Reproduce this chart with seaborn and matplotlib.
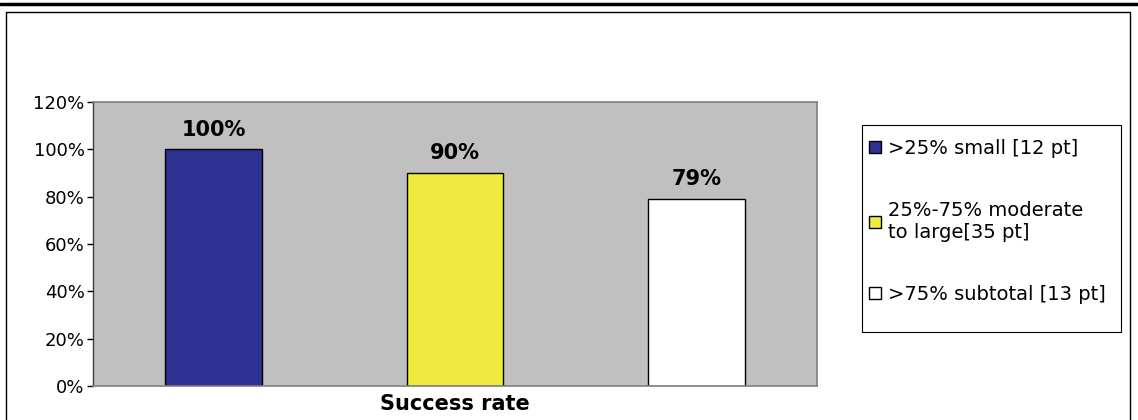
import matplotlib
matplotlib.use('Agg')
import matplotlib.pyplot as plt
import seaborn as sns
import pandas as pd
from matplotlib.patches import Patch, Rectangle
from matplotlib.lines import Line2D

groups = [">25% small [12 pt]", "25%-75% moderate\nto large[35 pt]", ">75% subtotal [13 pt]"]
values = [100, 90, 79]
value_labels = ["100%", "90%", "79%"]
colors = ["#2E3192", "#EEEA3E", "#FFFFFF"]
category = "Success rate"
yticks = [0, 20, 40, 60, 80, 100, 120]
ytick_labels = ["0%", "20%", "40%", "60%", "80%", "100%", "120%"]

sns.set_theme(style="white")
plt.rcParams['font.family'] = ['DejaVu Sans']
plt.rcParams['text.color'] = 'black'
plt.rcParams['xtick.color'] = 'black'
plt.rcParams['ytick.color'] = 'black'

W, H = 1138, 420
fig = plt.figure(figsize=(W / 100, H / 100), dpi=100)

# outer frame lines
fig.add_artist(Line2D([0, 1], [1 - 3.5 / H, 1 - 3.5 / H], color='black', lw=2.5, transform=fig.transFigure))
fig.add_artist(Line2D([6 / W, 6 / W, 1130 / W, 1130 / W], [0, 1 - 12 / H, 1 - 12 / H, 0],
                      color='black', lw=1, transform=fig.transFigure))

ax = fig.add_axes([93 / W, 34 / H, 724 / W, 284 / H])
df = pd.DataFrame({"group": groups, "value": values})
sns.barplot(data=df, x="group", y="value", hue="group", palette=colors, width=0.4,
            edgecolor="black", linewidth=1, ax=ax, legend=False, saturation=1)

ax.set_facecolor("#C0C0C0")
ax.set_ylim(0, 120)
ax.set_xlim(-0.5, 2.5)
ax.set_yticks(yticks)
ax.set_yticklabels(ytick_labels, fontsize=13, color='black')
ax.set_xticks([1])
ax.set_xticklabels([category], fontsize=15, fontweight='bold', color='black')
ax.tick_params(axis='x', length=0, pad=6)
ax.tick_params(axis='y', length=4, width=1, color='black', direction='out', pad=2, left=True)
ax.set_xlabel("")
ax.set_ylabel("")
for side in ["top", "right", "bottom"]:
    ax.spines[side].set_color("#808080")
    ax.spines[side].set_linewidth(1.2)
ax.spines["left"].set_color("#404040")
ax.spines["left"].set_linewidth(1)

for cont, lab in zip(ax.containers, value_labels):
    ax.bar_label(cont, labels=[lab], padding=7, fontsize=15, fontweight='bold', color='black')

# legend frame
fig.add_artist(Rectangle((862 / W, 1 - 332 / H), (1121 - 862) / W, (332 - 125) / H,
                         facecolor='white', edgecolor='black', lw=0.8, transform=fig.transFigure))
handles = [Patch(facecolor=c, edgecolor='black', linewidth=1) for c in colors]
leg = fig.legend(handles, groups, loc='upper left', bbox_to_anchor=(869 / W, 1 - 139 / H),
                 frameon=False, fontsize=14,
                 handlelength=0.6, handleheight=0.6, handletextpad=0.4, labelspacing=2.2,
                 borderpad=0, borderaxespad=0)
for t in leg.get_texts():
    t.set_color('black')

fig.savefig("out.png", dpi=100)
